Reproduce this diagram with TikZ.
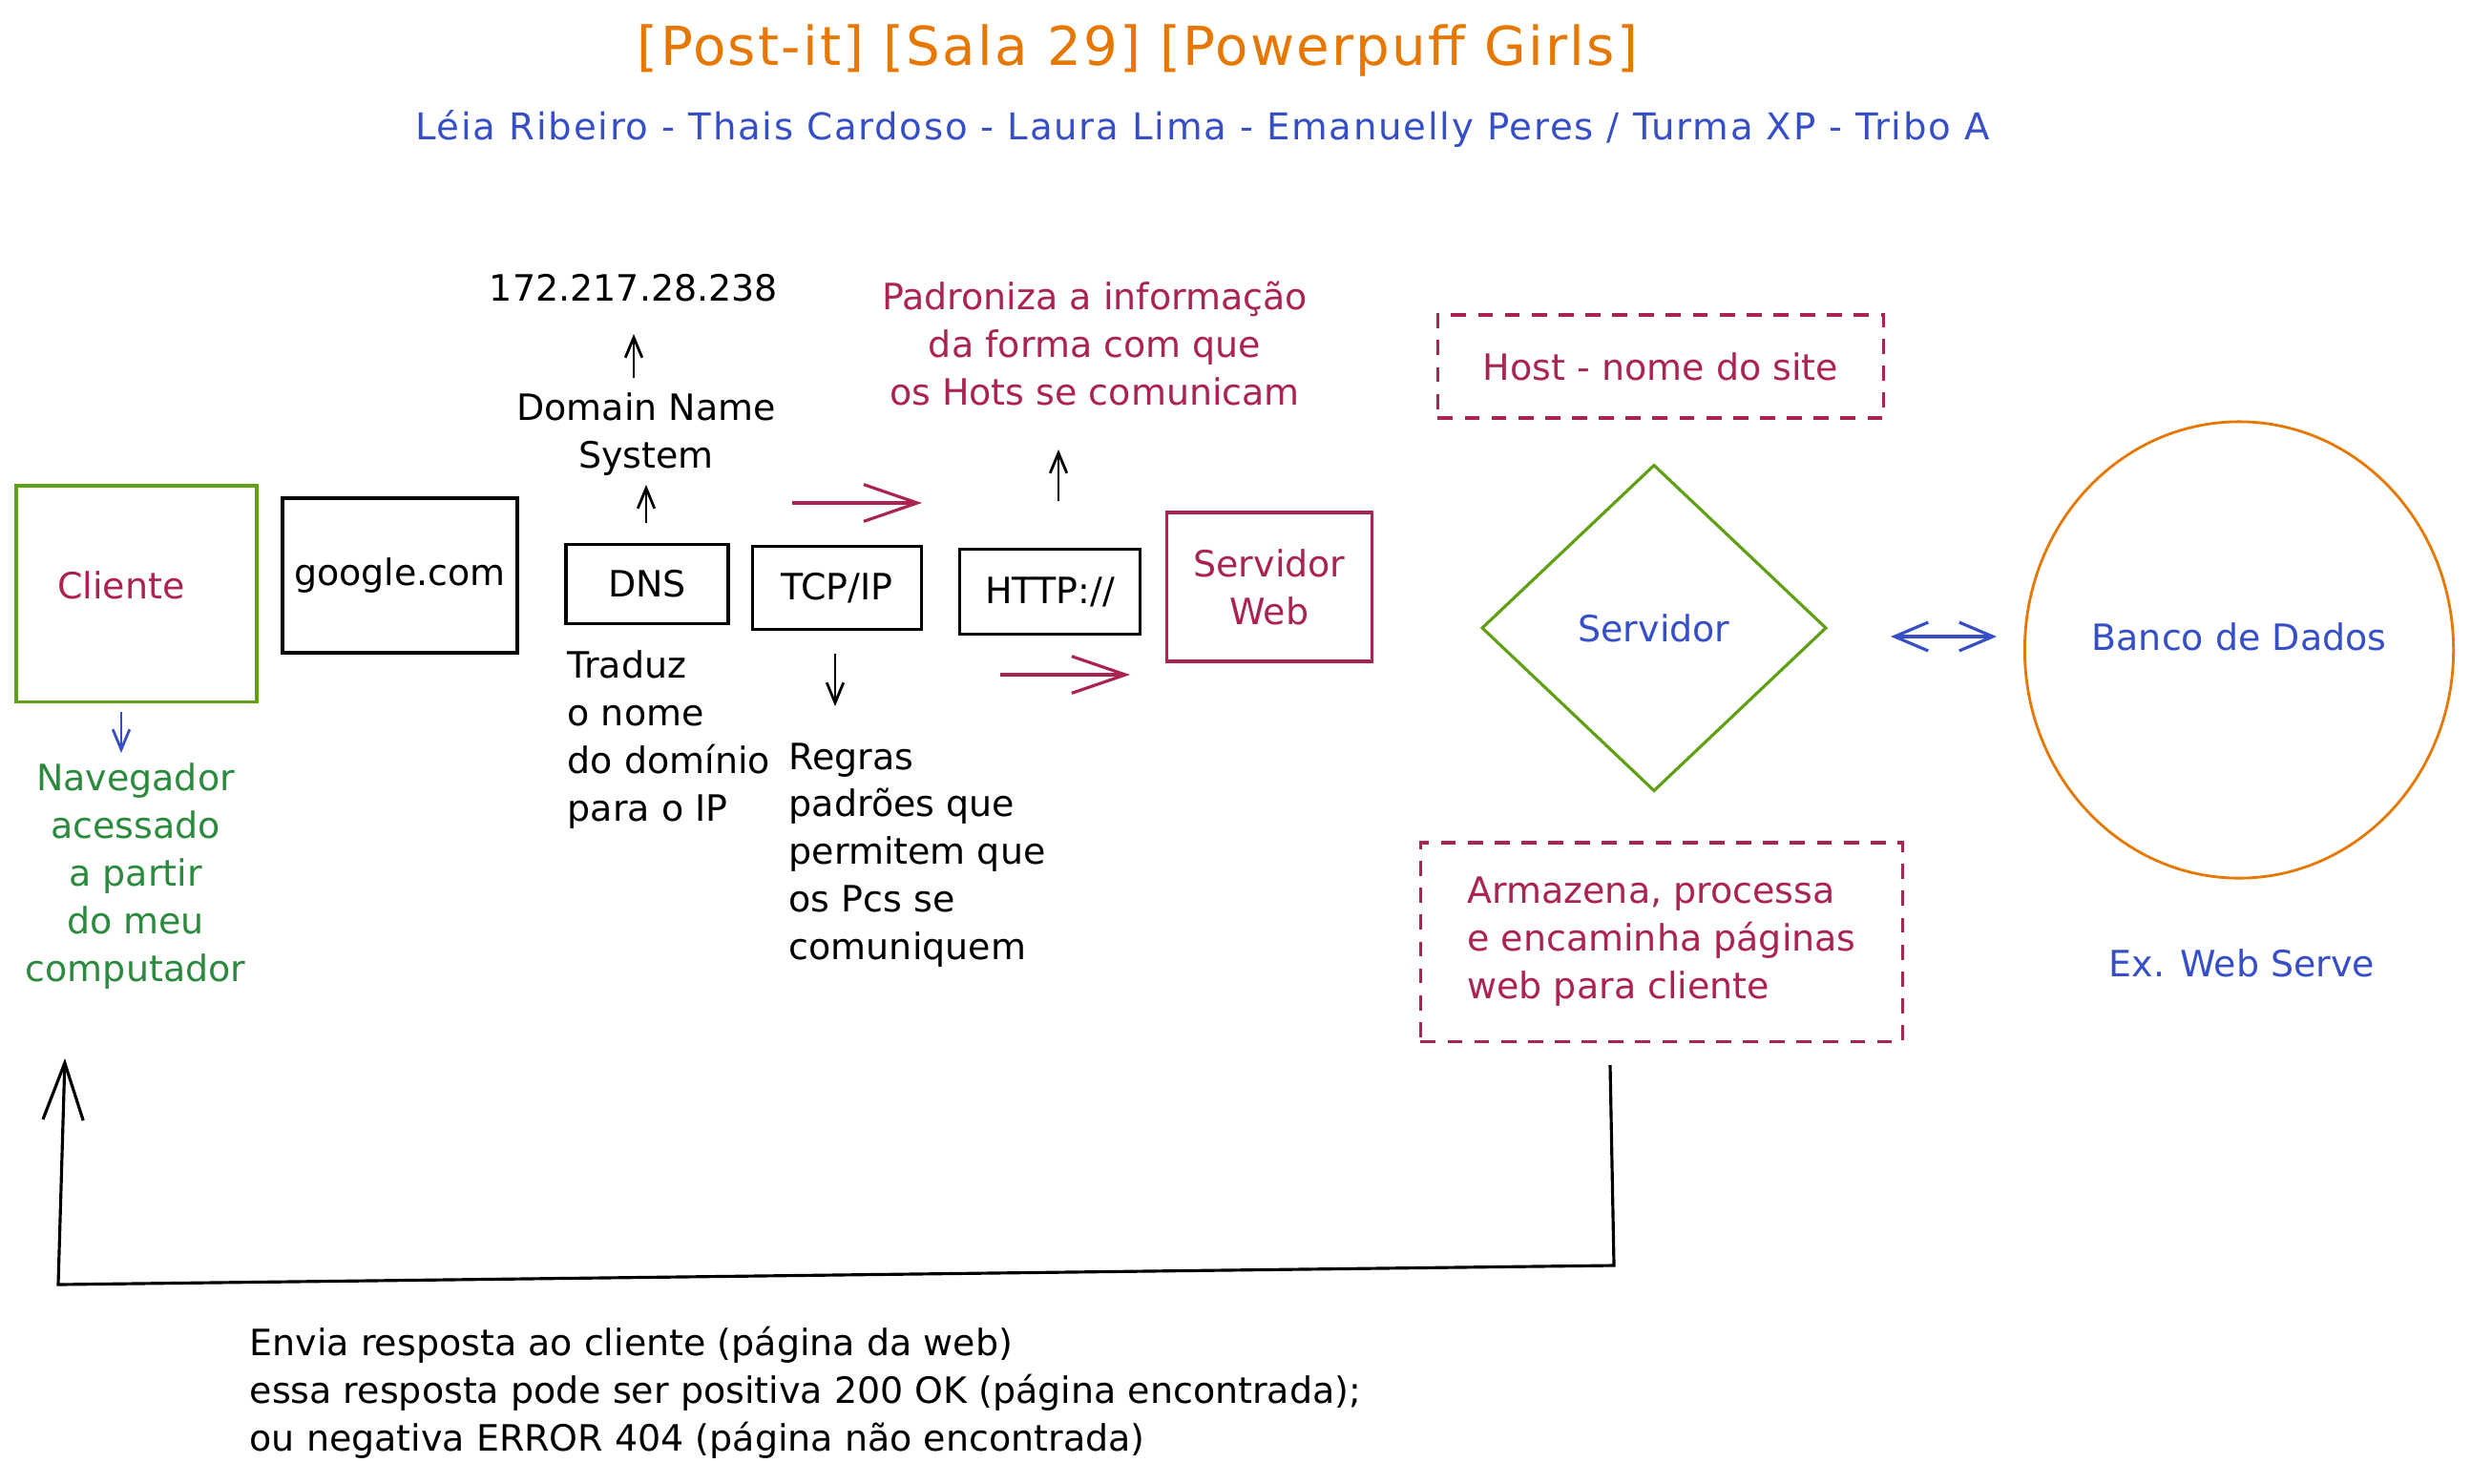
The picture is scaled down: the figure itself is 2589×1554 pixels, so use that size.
\documentclass[tikz,border=0pt]{standalone}
\usepackage{fontspec}
\setmainfont{DejaVu Sans}
\newfontfamily\titlefamily{DejaVu Sans}[LetterSpace=4]
\newfontfamily\subfamily{DejaVu Sans}[LetterSpace=4.5]
\usetikzlibrary{arrows.meta,shapes.geometric,calc}
\definecolor{crim}{RGB}{170,35,82}
\definecolor{boxgreen}{RGB}{95,160,20}
\definecolor{txtgreen}{RGB}{43,138,62}
\definecolor{xblue}{RGB}{54,79,199}
\definecolor{xorange}{RGB}{230,119,0}
\newcommand\bodyfont{\fontsize{10.8}{14.2}\selectfont}
\begin{document}
\begin{tikzpicture}[x=0.01cm,y=-0.01cm,
  txt/.style={inner sep=0pt, font=\bodyfont},
  box/.style={draw, line width=0.9pt, inner sep=0pt, font=\bodyfont},
  dashbox/.style={box, draw=crim, text=crim, dash pattern=on 4.5pt off 3.5pt},
  sarrow/.style={-{Straight Barb[length=6pt,width=5pt]}, line width=0.8pt},
  bigarrow/.style={-{Straight Barb[length=16pt,width=11pt]}, line width=0.9pt, draw=crim},
  dblarrow/.style={{Straight Barb[length=10pt,width=8.5pt]}-{Straight Barb[length=10pt,width=8.5pt]}, line width=0.9pt, draw=xblue}
]
\useasboundingbox (0,0) rectangle (2589,1554);

% title
\node[inner sep=0pt, text=xorange, font=\titlefamily\fontsize{16}{18}\selectfont] (title) at (1192,53) {[Post-it] [Sala 29] [Powerpuff Girls]};
\node[inner sep=0pt, text=xblue, font=\subfamily\fontsize{11}{13}\selectfont] (subtitle) at (1260,135) {Léia Ribeiro - Thais Cardoso - Laura Lima - Emanuelly Peres / Turma XP - Tribo A};

% boxes
\node[box, draw=boxgreen, minimum width=2.52cm, minimum height=2.26cm,
  label={[inner sep=0pt, text=crim, font=\bodyfont, xshift=-0.16cm, yshift=0.09cm]center:Cliente}] (cliente) at (143,622) {};
\node[box, minimum width=2.46cm, minimum height=1.62cm] (google) at (419,603) {google.com};
\node[box, minimum width=1.70cm, minimum height=0.83cm] (dns) at (678,612) {DNS};
\node[box, minimum width=1.77cm, minimum height=0.87cm] (tcp) at (877,616) {TCP/IP};
\node[box, minimum width=1.89cm, minimum height=0.89cm] (http) at (1100,620) {HTTP://};
\node[box, draw=crim, text=crim, align=center, minimum width=2.15cm, minimum height=1.56cm] (web) at (1330,615) {Servidor\\Web};
\node[dashbox, minimum width=4.67cm, minimum height=1.08cm] (host) at (1740,384) {Host - nome do site};
\node[diamond, draw=boxgreen, line width=0.9pt, inner sep=0pt, minimum width=3.61cm, minimum height=3.42cm, text=xblue, font=\bodyfont] (serv) at (1733,658) {Servidor};
\node[ellipse, draw=xorange, line width=0.8pt, inner sep=0pt, minimum width=4.49cm, minimum height=4.78cm,
  label={[inner sep=0pt, text=xblue, font=\bodyfont, yshift=0.14cm]center:Banco de Dados}] (db) at (2346,681) {};
\node[dashbox, align=left, minimum width=5.05cm, minimum height=2.08cm] (armaz) at (1741,987) {Armazena, processa\\e encaminha páginas\\web para cliente};

% texts
\node[txt] (ip) at (664,302) {172.217.28.238};
\node[txt, align=center] (dnsname) at (677,455) {Domain Name\\System};
\node[txt, align=left, anchor=west] (traduz) at (594,775) {Traduz\\o nome\\do domínio\\para o IP};
\node[txt, align=left, anchor=west] (regras) at (826,896) {Regras\\padrões que\\permitem que\\os Pcs se\\comuniquem};
\node[txt, align=center, text=crim] (padron) at (1147,360) {Padroniza a informação\\da forma com que\\os Hots se comunicam};
\node[txt, align=center, text=txtgreen] (naveg) at (142,918) {Navegador\\acessado\\a partir\\do meu\\computador};
\node[txt, text=xblue] (exweb) at (2349,1009) {Ex. Web Serve};
\node[txt, align=left, anchor=west] (resp) at (261,1459) {Envia resposta ao cliente (página da web)\\essa resposta pode ser positiva 200 OK (página encontrada);\\ou negativa ERROR 404 (página não encontrada)};

% arrow end points
\coordinate (dnsA) at (677,548);  \coordinate (dnsB) at (677,508);
\coordinate (ipA) at (664,396);   \coordinate (ipB) at (664,350);
\coordinate (tcpA) at (875,685);  \coordinate (tcpB) at (875,740);
\coordinate (httpA) at (1109,525);\coordinate (httpB) at (1109,471);
\coordinate (r1A) at (830,527);   \coordinate (r1B) at (966,527);
\coordinate (r2A) at (1048,707);  \coordinate (r2B) at (1184,707);
\coordinate (cliA) at (127,746);  \coordinate (cliB) at (127,789);
\coordinate (dbA) at (1981,667);  \coordinate (dbB) at (2092,667);
\coordinate (fbA) at (1687,1116); \coordinate (fbB) at (1691,1326);
\coordinate (fbC) at (61,1346);   \coordinate (fbD) at (68,1109);

\draw[sarrow] (dnsA) -- (dnsB);
\draw[sarrow] (ipA) -- (ipB);
\draw[sarrow] (tcpA) -- (tcpB);
\draw[sarrow] (httpA) -- (httpB);
\draw[bigarrow] (r1A) -- (r1B);
\draw[bigarrow] (r2A) -- (r2B);
\draw[sarrow, draw=xblue] (cliA) -- (cliB);
\draw[dblarrow] (dbA) -- (dbB);
\draw[line width=0.9pt, -{Straight Barb[length=17pt,width=12pt]}] (fbA) -- (fbB) -- (fbC) -- (fbD);
\end{tikzpicture}
\end{document}
